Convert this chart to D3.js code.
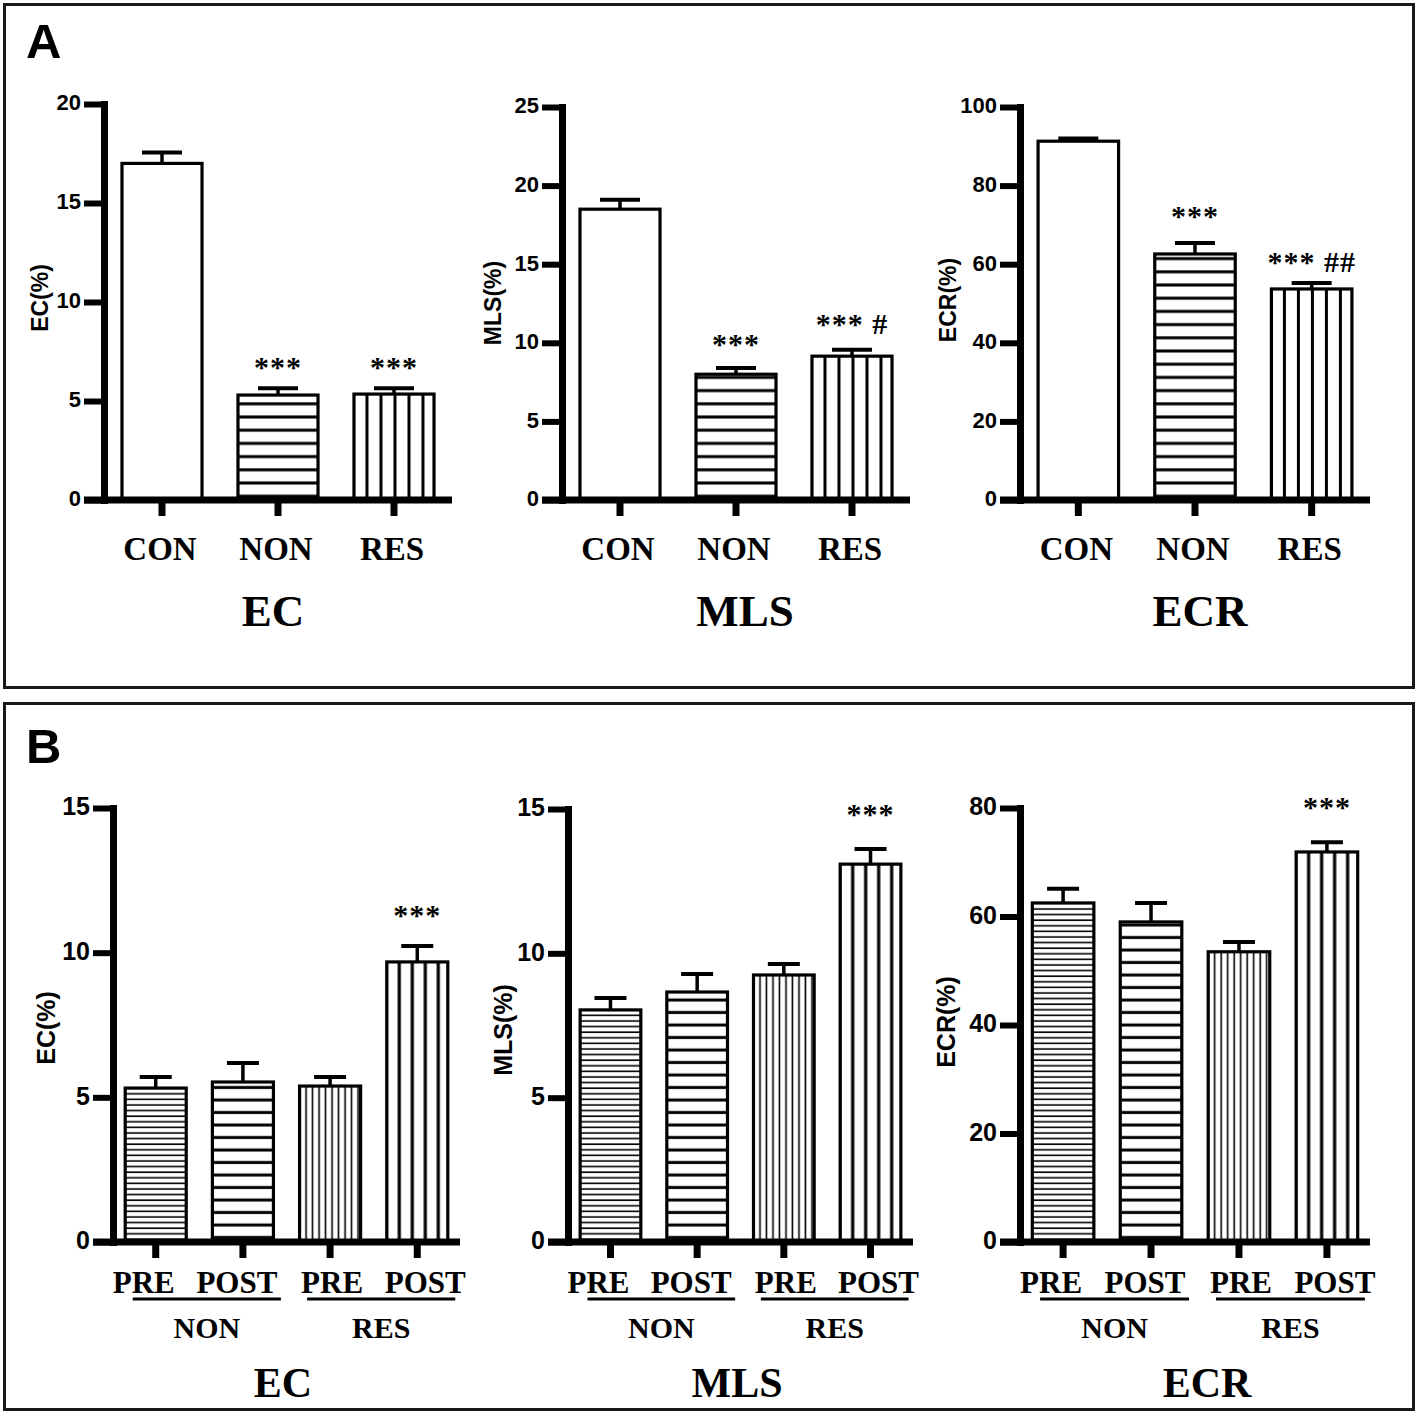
<!DOCTYPE html>
<html><head><meta charset="utf-8">
<script src="https://cdn.jsdelivr.net/npm/d3@7"></script>
<style>body{margin:0;background:#fff}</style>
</head><body>
<svg id="c" width="1418" height="1414" xmlns="http://www.w3.org/2000/svg"></svg>
<script>
// ---------- DATA ----------
const groupsA = ["CON", "NON", "RES"];
const groupsB = ["NON-PRE", "NON-POST", "RES-PRE", "RES-POST"];
const timeLabelsB = ["PRE", "POST", "PRE", "POST"];
const groupLabelsB = ["NON", "RES"];

const titles = ["EC", "MLS", "ECR"];
const yLabels = ["EC(%)", "MLS(%)", "ECR(%)"];

// Panel A : mean and SEM
const ecA = [17.0, 5.3, 5.35];
const ecAErr = [0.55, 0.35, 0.3];
const mlsA = [18.5, 8.0, 9.15];
const mlsAErr = [0.6, 0.4, 0.4];
const ecrA = [91.3, 62.6, 53.7];
const ecrAErr = [0.7, 2.8, 1.5];
const sigA = [["", "***", "***"], ["", "***", "*** #"], ["", "***", "*** ##"]];

// Panel B : mean and SEM
const ecB = [5.32, 5.53, 5.39, 9.68];
const ecBErr = [0.38, 0.66, 0.31, 0.55];
const mlsB = [8.04, 8.66, 9.25, 13.09];
const mlsBErr = [0.41, 0.62, 0.38, 0.52];
const ecrB = [62.5, 59.0, 53.5, 71.9];
const ecrBErr = [2.6, 3.5, 1.8, 1.8];
const sigB = [["", "", "", "***"], ["", "", "", "***"], ["", "", "", "***"]];

// Tick values
const ticksA = [[0, 5, 10, 15, 20], [0, 5, 10, 15, 20, 25], [0, 20, 40, 60, 80, 100]];
const ticksB = [[0, 5, 10, 15], [0, 5, 10, 15], [0, 20, 40, 60, 80]];

// ---------- LAYOUT ----------
const layoutA = [
  {ax: 104, xEnd: 452, yTop: 104, yBase: 500, titleX: 273, ylabX: 40, ylabY: 298, sigOff: [0, 11, 11]},
  {ax: 562, xEnd: 910, yTop: 107, yBase: 500, titleX: 745, ylabX: 493, ylabY: 303, sigOff: [0, 14, 16]},
  {ax: 1020, xEnd: 1370, yTop: 107, yBase: 500, titleX: 1200, ylabX: 948, ylabY: 300, sigOff: [0, 17, 11]}
];
const layoutB = [
  {ax: 113, xEnd: 460, yTop: 808, yBase: 1242, titleX: 283, ylabX: 46, ylabY: 1028, sigOff: [0, 0, 0, 21]},
  {ax: 568, xEnd: 913, yTop: 809, yBase: 1242, titleX: 737, ylabX: 503, ylabY: 1030, sigOff: [0, 0, 0, 25]},
  {ax: 1020, xEnd: 1370, yTop: 808, yBase: 1242, titleX: 1207, ylabX: 946, ylabY: 1022, sigOff: [0, 0, 0, 25]}
];
// fill patterns: direction, spacing, thickness, offset
const patA = [null, {dir: "h", sp: 13.2, th: 3, off: 9.4}, {dir: "v", sp: 14, th: 3, off: 11.5}];
const patB = [{dir: "h", sp: 5.6, th: 1.6, off: 3}, {dir: "h", sp: 12.5, th: 3, off: 8},
              {dir: "v", sp: 6.5, th: 1.6, off: 5}, {dir: "v", sp: 13, th: 3.2, off: 11}];

const SANS = "'Liberation Sans', Arial, sans-serif";
const SERIF = "'Liberation Serif', 'Times New Roman', serif";

const svg = d3.select("#c");
svg.append("rect").attr("width", 1418).attr("height", 1414).attr("fill", "#fff");
const defs = svg.append("defs");

// Panel frames
svg.append("rect").attr("x", 4.5).attr("y", 4.5).attr("width", 1409).attr("height", 683)
  .attr("fill", "none").attr("stroke", "#1a1a1a").attr("stroke-width", 3);
svg.append("rect").attr("x", 4.5).attr("y", 703.5).attr("width", 1409).attr("height", 706)
  .attr("fill", "none").attr("stroke", "#1a1a1a").attr("stroke-width", 3);
svg.append("text").attr("x", 26).attr("y", 58).text("A")
  .attr("font-family", SANS).attr("font-weight", "bold").attr("font-size", 49);
svg.append("text").attr("x", 26).attr("y", 763).text("B")
  .attr("font-family", SANS).attr("font-weight", "bold").attr("font-size", 49);

let pid = 0;
function makePattern(p, x0, yBase) {
  if (!p) return "#fff";
  const id = "pat" + (pid++);
  const pat = defs.append("pattern").attr("id", id).attr("patternUnits", "userSpaceOnUse")
    .attr("patternTransform", `translate(${x0},${yBase})`);
  if (p.dir === "h") {
    pat.attr("width", 20).attr("height", p.sp);
    pat.append("rect").attr("width", 20).attr("height", p.sp).attr("fill", "#fff");
    pat.append("rect").attr("x", 0).attr("y", p.off - p.th / 2).attr("width", 20).attr("height", p.th).attr("fill", "#000");
  } else {
    pat.attr("width", p.sp).attr("height", 20);
    pat.append("rect").attr("width", p.sp).attr("height", 20).attr("fill", "#fff");
    pat.append("rect").attr("x", p.off - p.th / 2).attr("y", 0).attr("width", p.th).attr("height", 20).attr("fill", "#000");
  }
  return `url(#${id})`;
}

function drawChart(cfg) {
  const {L, cats, vals, errs, ticks, pats, sig, title, ylab, B} = cfg;
  const g = svg.append("g");
  const x = d3.scaleBand().domain(cats).range([L.ax, L.xEnd])
    .paddingInner(B ? 0.3 : 0.31).paddingOuter(B ? 0.14 : 0.155);
  const y = d3.scaleLinear().domain([0, d3.max(ticks)]).range([L.yBase, L.yTop]);
  const bw = x.bandwidth();

  // bars
  g.selectAll("rect.bar").data(cats).join("rect").attr("class", "bar")
    .attr("x", d => x(d)).attr("y", (d, i) => y(vals[i]))
    .attr("width", bw).attr("height", (d, i) => L.yBase - y(vals[i]))
    .attr("fill", (d, i) => makePattern(pats[i], x(d) + 1.5, L.yBase))
    .attr("stroke", "#000").attr("stroke-width", 3.2);

  // error bars (upper only)
  const cap = B ? 16 : 20;
  cats.forEach((d, i) => {
    const cx = x(d) + bw / 2;
    g.append("line").attr("x1", cx).attr("x2", cx).attr("y1", y(vals[i])).attr("y2", y(vals[i] + errs[i]))
      .attr("stroke", "#000").attr("stroke-width", 3.5);
    g.append("line").attr("x1", cx - cap).attr("x2", cx + cap).attr("y1", y(vals[i] + errs[i])).attr("y2", y(vals[i] + errs[i]))
      .attr("stroke", "#000").attr("stroke-width", 4);
    if (sig[i]) {
      g.append("text").attr("x", cx).attr("y", y(vals[i] + errs[i]) - L.sigOff[i])
        .attr("text-anchor", "middle").attr("font-family", SERIF).attr("font-weight", "bold")
        .attr("font-size", 30).attr("letter-spacing", 1).text(sig[i]);
    }
  });

  // y axis
  const yAxis = d3.axisLeft(y).tickValues(ticks).tickSize(20).tickSizeOuter(0).tickPadding(3);
  const ya = g.append("g").attr("transform", `translate(${L.ax},0)`).call(yAxis);
  ya.select(".domain").attr("stroke-width", 7).attr("stroke-linecap", "square").attr("stroke", "#000");
  ya.selectAll(".tick line").attr("stroke-width", 6).attr("stroke", "#000");
  ya.selectAll(".tick text").attr("font-family", SANS).attr("font-weight", "bold")
    .attr("font-size", B ? 25 : 22).attr("fill", "#000").attr("dy", "0.27em");

  // x axis
  g.append("line").attr("x1", L.ax - 20).attr("x2", L.xEnd).attr("y1", L.yBase).attr("y2", L.yBase)
    .attr("stroke", "#000").attr("stroke-width", 7);
  const xAxis = d3.axisBottom(x).tickSize(16).tickSizeOuter(0).tickFormat("");
  const xa = g.append("g").attr("transform", `translate(0,${L.yBase})`).call(xAxis);
  xa.select(".domain").remove();
  xa.selectAll(".tick line").attr("stroke-width", 7).attr("stroke", "#000");

  // y label
  g.append("text").attr("transform", `translate(${L.ylabX},${L.ylabY}) rotate(-90)`)
    .attr("text-anchor", "middle").attr("dominant-baseline", "central")
    .attr("font-family", SANS).attr("font-weight", "bold").attr("font-size", B ? 25 : 23).text(ylab);

  if (!B) {
    cats.forEach(d => {
      g.append("text").attr("x", x(d) + bw / 2 - 2).attr("y", L.yBase + 60).attr("text-anchor", "middle")
        .attr("font-family", SERIF).attr("font-weight", "bold").attr("font-size", 33).text(d);
    });
    g.append("text").attr("x", L.titleX).attr("y", L.yBase + 126).attr("text-anchor", "middle")
      .attr("font-family", SERIF).attr("font-weight", "bold").attr("font-size", 45).text(title);
  } else {
    const dx = [-12, -6, 2, 8];
    cats.forEach((d, i) => {
      g.append("text").attr("x", x(d) + bw / 2 + dx[i]).attr("y", L.yBase + 51).attr("text-anchor", "middle")
        .attr("font-family", SERIF).attr("font-weight", "bold").attr("font-size", 31).text(timeLabelsB[i]);
    });
    groupLabelsB.forEach((gl, k) => {
      const c1 = x(cats[2 * k]) + bw / 2, c2 = x(cats[2 * k + 1]) + bw / 2;
      const x1 = c1 - 23, x2 = c2 + 38;
      g.append("line").attr("x1", x1).attr("x2", x2).attr("y1", L.yBase + 57).attr("y2", L.yBase + 57)
        .attr("stroke", "#000").attr("stroke-width", 3);
      g.append("text").attr("x", (x1 + x2) / 2).attr("y", L.yBase + 96).attr("text-anchor", "middle")
        .attr("font-family", SERIF).attr("font-weight", "bold").attr("font-size", 30).text(gl);
    });
    g.append("text").attr("x", L.titleX).attr("y", L.yBase + 155).attr("text-anchor", "middle")
      .attr("font-family", SERIF).attr("font-weight", "bold").attr("font-size", 42).text(title);
  }
}

const valsA = [ecA, mlsA, ecrA], errsA = [ecAErr, mlsAErr, ecrAErr];
const valsB = [ecB, mlsB, ecrB], errsB = [ecBErr, mlsBErr, ecrBErr];
for (let k = 0; k < 3; k++) {
  drawChart({L: layoutA[k], cats: groupsA, vals: valsA[k], errs: errsA[k], ticks: ticksA[k],
    pats: patA, sig: sigA[k], title: titles[k], ylab: yLabels[k], B: false});
  drawChart({L: layoutB[k], cats: groupsB, vals: valsB[k], errs: errsB[k], ticks: ticksB[k],
    pats: patB, sig: sigB[k], title: titles[k], ylab: yLabels[k], B: true});
}
</script>
</body></html>
